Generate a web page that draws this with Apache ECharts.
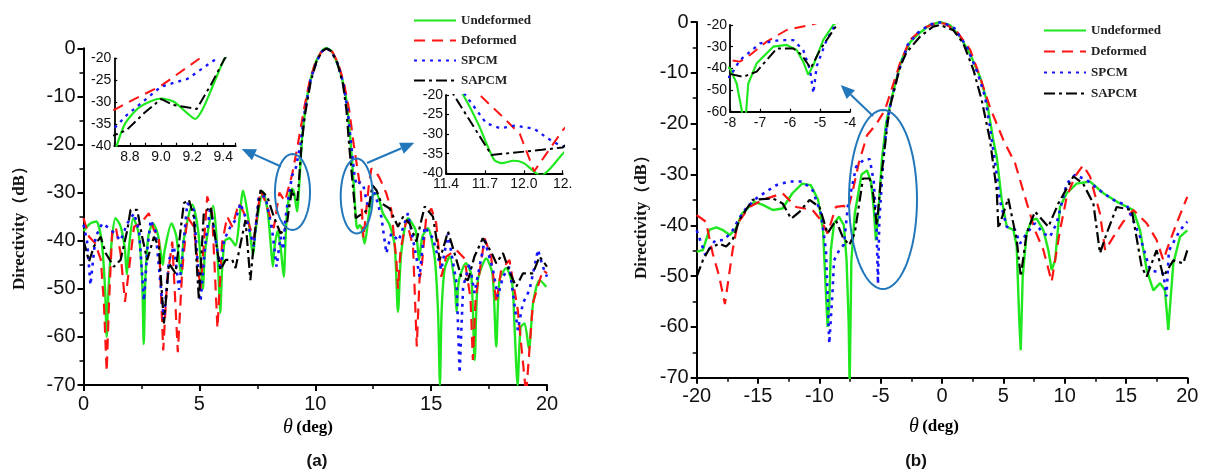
<!DOCTYPE html>
<html><head><meta charset="utf-8">
<script src="https://cdn.jsdelivr.net/npm/echarts@6/dist/echarts.min.js"></script>
<style>html,body{margin:0;padding:0;background:#fff}#c{width:1208px;height:476px}</style>
</head><body><div id="c"></div>
<script>
// ---------- DATA ----------
const seriesNames = ['Undeformed', 'Deformed', 'SPCM', 'SAPCM'];
const xTicksA = [0, 5, 10, 15, 20];
const xTicksB = [-20, -15, -10, -5, 0, 5, 10, 15, 20];
const yTicks = [0, -10, -20, -30, -40, -50, -60, -70];

// (a) theta (deg), directivity (dB)
const undeformedA = [[0,-38],[0.3,-36.4],[0.55,-36],[0.78,-40],[0.93,-50],[1.0,-60],[1.08,-50],[1.22,-40],[1.38,-35.3],[1.6,-37],[1.78,-41.5],[1.87,-47],[1.97,-41],[2.15,-35.3],[2.38,-38.5],[2.53,-48],[2.6,-61.5],[2.67,-48],[2.8,-39],[3.0,-36.4],[3.2,-38.5],[3.35,-43],[3.42,-45],[3.5,-42],[3.8,-36.4],[4.0,-39],[4.15,-45],[4.22,-47],[4.32,-40],[4.7,-32.5],[4.95,-38],[5.08,-46],[5.15,-50],[5.25,-42],[5.6,-32.8],[5.75,-40],[5.85,-50],[5.9,-55],[5.98,-46],[6.1,-40],[6.3,-39.5],[6.55,-41],[6.89,-29.6],[7.1,-35],[7.25,-41],[7.32,-43],[7.42,-38],[7.75,-29.8],[7.95,-34],[8.1,-42],[8.17,-45.4],[8.25,-41],[8.38,-38],[8.52,-42],[8.64,-47.5],[8.715,-40],[8.77,-34.9],[8.865,-31.1],[9.0,-29.2],[9.08,-29.9],[9.17,-32.6],[9.22,-33.9],[9.27,-31.5],[9.34,-25.7],[9.41,-20],[9.5,-15.5],[9.65,-10],[9.85,-5.5],[10.05,-2.6],[10.28,-0.6],[10.48,0],[10.7,-0.6],[10.92,-2.8],[11.12,-5.6],[11.32,-10],[11.44,-15],[11.54,-20.4],[11.65,-27.5],[11.77,-36.5],[11.83,-37.4],[11.92,-36.8],[12.0,-37.4],[12.13,-40.6],[12.31,-34.7],[12.45,-30.8],[12.64,-30.2],[12.92,-34.3],[13.21,-36.7],[13.43,-41.2],[13.57,-54.8],[13.71,-42.6],[14.0,-35.3],[14.33,-37.8],[14.48,-44],[14.62,-39.2],[14.86,-37.4],[15.15,-43.3],[15.3,-55],[15.38,-70],[15.45,-55],[15.58,-46],[15.8,-43.3],[16.02,-48.9],[16.1,-54.8],[16.2,-48.2],[16.5,-44.7],[16.73,-47],[16.88,-64.8],[17.02,-48.2],[17.38,-43.7],[17.65,-47],[17.81,-62],[17.95,-48.2],[18.24,-45.7],[18.5,-49],[18.6,-58],[18.73,-70],[18.86,-58],[19.03,-57.2],[19.22,-62.5],[19.4,-53],[19.68,-48.2],[19.97,-49.6]];
const deformedA = [[0,-35.3],[0.24,-39.2],[0.5,-40.5],[0.75,-44],[0.88,-53],[1.0,-67.2],[1.1,-53],[1.24,-37.8],[1.39,-37.1],[1.6,-42.6],[1.79,-52.7],[1.96,-46.1],[2.18,-37.1],[2.46,-36.4],[2.82,-34.3],[3.04,-37.8],[3.25,-39.2],[3.44,-62.8],[3.61,-48.2],[3.83,-40.2],[4.07,-63.2],[4.26,-46.1],[4.48,-35],[4.76,-37.1],[5.05,-50.2],[5.34,-30.8],[5.55,-34.3],[5.78,-58.2],[5.98,-40.5],[6.2,-35],[6.42,-37.1],[6.7,-32.2],[6.9,-34],[7.13,-36.4],[7.35,-39.9],[7.64,-29.5],[7.85,-31.9],[8.21,-37.4],[8.45,-30],[8.58,-31],[8.7,-31.8],[8.82,-29.5],[9.0,-26.3],[9.25,-20],[9.5,-13],[9.75,-7],[10.0,-3],[10.25,-0.8],[10.5,0],[10.75,-0.8],[11.0,-3.2],[11.25,-7.5],[11.47,-13],[11.66,-20],[11.85,-26],[11.97,-30],[12.08,-39.5],[12.3,-29],[12.42,-25],[12.6,-25.5],[12.78,-27],[13.07,-30.2],[13.28,-33.6],[13.5,-44],[13.57,-50],[13.68,-42],[13.93,-35.7],[14.22,-41.2],[14.38,-62],[14.5,-48],[14.58,-46.1],[14.79,-35],[15.01,-33.3],[15.22,-36.4],[15.44,-47.5],[15.65,-43.3],[16.08,-41.9],[16.44,-43.7],[16.7,-52],[16.8,-64.8],[16.92,-52],[17.31,-39.5],[17.59,-43.3],[17.81,-53],[18.02,-46.1],[18.38,-44],[18.74,-54.4],[19.1,-72],[19.39,-53],[19.82,-46.1],[20,-46.8]];
const spcmA = [[0,-36.7],[0.15,-40],[0.3,-49.2],[0.52,-39.2],[0.81,-36.4],[1.1,-37.4],[1.35,-38.5],[1.6,-40],[1.89,-36.4],[2.18,-34.3],[2.4,-38],[2.61,-52.5],[2.75,-42],[2.9,-35.7],[3.11,-38.1],[3.47,-56.5],[3.69,-44],[3.9,-41.2],[4.12,-50.2],[4.26,-43.3],[4.48,-32.2],[4.76,-33.6],[5.05,-52.7],[5.27,-39.9],[5.48,-32.9],[5.77,-41.9],[5.91,-46.1],[6.06,-39.9],[6.34,-37.1],[6.56,-35.7],[6.77,-32.2],[7.06,-36],[7.35,-41.2],[7.56,-30.8],[7.85,-30.8],[8.14,-37.8],[8.33,-45.4],[8.5,-39.2],[8.62,-41.9],[8.7,-36],[8.78,-33],[9.0,-26.5],[9.17,-24.7],[9.36,-20],[9.55,-13],[9.8,-6.5],[10.05,-2.8],[10.3,-0.6],[10.48,0],[10.7,-0.6],[10.95,-3],[11.2,-7],[11.4,-13],[11.55,-20],[11.71,-27.2],[11.82,-28.5],[11.93,-27.8],[12.08,-28.6],[12.19,-31.2],[12.3,-33.3],[12.45,-30],[12.58,-30.2],[12.85,-35],[13.07,-42.6],[13.28,-38.5],[13.6,-40],[14.0,-34.3],[14.36,-43.3],[14.5,-47.5],[14.72,-37.1],[15.08,-39.5],[15.44,-46.1],[15.73,-38.5],[16.1,-48.9],[16.23,-67.5],[16.38,-49.6],[16.66,-44.7],[16.87,-50.9],[17.31,-39.9],[17.67,-46.1],[17.88,-51.6],[18.1,-47.5],[18.38,-45.4],[18.74,-58.6],[18.96,-53],[19.25,-50.2],[19.61,-41.9],[19.82,-45.4],[20,-47.5]];
const sapcmA = [[0,-39.9],[0.24,-44.3],[0.45,-41.2],[0.74,-39.2],[0.96,-42.6],[1.31,-45.4],[1.6,-44],[1.89,-37.8],[2.03,-33.6],[2.32,-33.6],[2.53,-39.2],[2.75,-44],[3.04,-39.2],[3.25,-41.2],[3.47,-57.2],[3.69,-44.7],[3.97,-46.8],[4.19,-37.8],[4.33,-32.2],[4.55,-31.5],[4.76,-35],[4.98,-52.3],[5.19,-34.3],[5.48,-32.9],[5.7,-39.9],[5.91,-46.1],[6.13,-44],[6.42,-44],[6.56,-45.7],[6.99,-35.7],[7.2,-48.2],[7.4,-38],[7.64,-29.5],[7.93,-30.8],[8.21,-35],[8.5,-38.5],[8.7,-37.6],[8.78,-36.4],[8.89,-32.6],[9.0,-29.3],[9.08,-30.7],[9.23,-31.6],[9.32,-26.1],[9.41,-20],[9.55,-14],[9.8,-7],[10.05,-2.8],[10.3,-0.6],[10.48,0],[10.7,-0.6],[10.95,-3],[11.2,-7.5],[11.35,-13],[11.46,-20],[11.75,-35.3],[12.14,-34],[12.3,-33.4],[12.47,-28.5],[12.64,-29.5],[12.85,-32.2],[13.21,-33.3],[13.57,-37.1],[13.79,-35],[14.07,-36.4],[14.36,-40.2],[14.72,-32.9],[15.08,-35],[15.37,-44],[15.73,-38.1],[16.01,-42.6],[16.3,-47.5],[16.59,-48.2],[16.87,-43.3],[17.23,-39.5],[17.59,-42.3],[17.81,-44.7],[18.1,-42.6],[18.38,-46.4],[18.67,-49.6],[18.96,-46.8],[19.39,-46.8],[19.68,-43.3],[20,-45.4]];

// (b)
const undeformedB = [[-20,-45.2],[-19.5,-44.9],[-18.97,-40.9],[-18.4,-40.4],[-17.9,-40.9],[-17.3,-41.9],[-16.8,-40.6],[-16.3,-37.7],[-15.3,-35.4],[-14.6,-36],[-13.8,-37],[-13,-36.7],[-12.2,-33.7],[-11.4,-31.8],[-10.7,-32.1],[-10.1,-35],[-9.7,-40.9],[-9.46,-53.4],[-9.33,-60],[-9.19,-55.4],[-9.06,-44.9],[-8.8,-39.6],[-8.4,-38.3],[-8,-40],[-7.78,-46.9],[-7.61,-59.2],[-7.53,-72],[-7.39,-47],[-7.11,-37.7],[-6.56,-30],[-6.11,-29.2],[-5.78,-31.5],[-5.56,-36.9],[-5.39,-43],[-5.22,-38.5],[-4.89,-26.9],[-4.56,-20],[-4.2,-16],[-3.8,-12],[-3.3,-7.5],[-2.6,-4],[-2,-2.5],[-1,-0.6],[-0.15,0],[0.65,-0.6],[1.47,-2.9],[2.28,-6.2],[3.1,-10.8],[3.64,-15.4],[4.18,-23.2],[4.46,-26.5],[4.87,-35],[5.28,-40.3],[5.82,-40.9],[6.09,-44.2],[6.31,-59.3],[6.42,-64.6],[6.58,-50.1],[6.9,-41.6],[7.31,-39],[7.72,-38.7],[8.27,-41],[8.67,-44.9],[8.94,-48.8],[9.22,-46.9],[9.62,-36.4],[10.17,-33.7],[10.98,-31.8],[12.07,-31.4],[13.16,-33.7],[14.51,-35.7],[15.6,-37],[16.15,-41],[16.69,-48.8],[17.23,-52.8],[17.78,-51.4],[18.18,-52.8],[18.45,-60.6],[18.59,-56],[18.86,-47.5],[19.4,-42.3],[20,-41]];
const deformedB = [[-20,-38],[-19.25,-39.3],[-18.7,-45.5],[-18.16,-50.1],[-17.7,-55.5],[-17.07,-44.9],[-16.66,-39.6],[-15.7,-36.4],[-14.6,-35],[-13,-33.7],[-11.9,-36.4],[-10.55,-37],[-9.87,-39],[-9.33,-41.6],[-8.65,-36.4],[-8,-36.2],[-7.67,-36.9],[-7.33,-33.8],[-6.78,-27.7],[-6.11,-22.3],[-5.33,-20],[-4.65,-17.3],[-3.42,-8.1],[-2.6,-3.5],[-1.5,-1.2],[-0.5,-0.2],[0.2,-0.3],[1.2,-1.8],[2.3,-5.5],[3.1,-10.8],[3.91,-16.8],[5,-23.2],[5.96,-27.8],[6.9,-35.5],[7.58,-41],[8.27,-44.9],[8.94,-51.1],[9.62,-41],[10.17,-34.4],[10.84,-30.4],[11.5,-28.2],[12.07,-30.4],[12.88,-37.7],[13.3,-44.9],[13.97,-42.3],[14.78,-39.3],[15.6,-37],[16.69,-39.6],[17.5,-42.9],[18.05,-46.9],[18.32,-44.9],[19.13,-39.6],[20,-34.4]];
const spcmB = [[-20,-41],[-19.3,-45.8],[-18.5,-43],[-17.75,-42.9],[-17.07,-41],[-16.53,-38.6],[-15.98,-36.7],[-15.3,-35],[-14.35,-33.4],[-13.5,-32.1],[-12.45,-31.4],[-11.36,-31.4],[-10.55,-33.1],[-9.87,-37.7],[-9.46,-44.9],[-9.19,-63.3],[-8.92,-52.8],[-8.8,-46.9],[-8.38,-44.9],[-8,-43.8],[-7.67,-36.2],[-7,-28.5],[-6.33,-27],[-5.89,-27],[-5.56,-31.5],[-5.33,-40.8],[-5.22,-51.5],[-5.11,-39],[-4.78,-27],[-4.5,-20],[-4.1,-15],[-3.5,-9.5],[-2.8,-4.5],[-2,-2.2],[-1,-0.5],[0,0],[1,-1.2],[2,-4.8],[2.9,-10],[3.5,-14.6],[3.9,-20.5],[4.46,-30],[4.7,-35],[5.28,-40.3],[5.96,-40.9],[6.36,-43.6],[6.9,-41.6],[7.58,-39.6],[8.27,-41.6],[8.8,-42.3],[9.35,-39.6],[10.17,-31.8],[10.84,-30.1],[11.8,-31.1],[13.16,-33.7],[14.24,-35.4],[15.06,-36],[16.15,-42.3],[16.96,-48.8],[18.05,-49.5],[18.3,-54],[18.5,-45],[19.4,-41],[20,-39.3]];
const sapcmB = [[-20,-50.1],[-19.5,-46.9],[-18.97,-44.6],[-18.16,-43.6],[-17.6,-44.2],[-17.07,-42.9],[-16.53,-39],[-15.44,-35],[-13.8,-34.7],[-13,-35.7],[-12.3,-38.7],[-11.6,-37.3],[-10.8,-35],[-9.99,-36.4],[-9.33,-41.6],[-8.65,-39],[-8.1,-42.3],[-7.56,-43.9],[-7.11,-41.5],[-6.44,-30.8],[-5.89,-30.8],[-5.61,-33.8],[-5.31,-40],[-5,-31.5],[-4.44,-20],[-4.24,-16.7],[-3.42,-8.8],[-2.9,-6],[-1.8,-2.9],[-0.73,-0.9],[-0.16,-0.6],[0.92,-1.6],[1.74,-4.2],[2.56,-9.4],[3.24,-15.4],[3.91,-23.2],[4.46,-33.1],[4.6,-40.6],[5.4,-34.7],[6.09,-42.9],[6.42,-50.1],[6.9,-41.6],[7.58,-37.3],[8.67,-40.3],[9.49,-35.7],[10.71,-30.4],[11.5,-31.8],[12.34,-35.7],[12.88,-45.5],[13.43,-41.6],[14.24,-36.4],[15.47,-37],[16.28,-48.2],[16.69,-50.1],[17.5,-44.9],[18.05,-50.1],[18.86,-46.9],[19.67,-47.5],[20,-44.9]];

// ---------- STYLES ----------
const styles = {
  'Undeformed': {color:'#1fe81f', width:2.4, type:'solid'},
  'Deformed':   {color:'#ff1414', width:2.2, type:[11,7]},
  'SPCM':       {color:'#1414ff', width:2.6, type:[3,5]},
  'SAPCM':      {color:'#000000', width:2.2, type:[11,4,3,4]}
};
const dataA = [undeformedA, deformedA, spcmA, sapcmA];
const dataB = [undeformedB, deformedB, spcmB, sapcmB];

const chart = echarts.init(document.getElementById('c'), null, {renderer:'canvas'});

const FS = 'Liberation Sans, Arial, sans-serif';
const SERIF = 'Liberation Serif, Times New Roman, serif';

function mainX(gi, min, max) {
  return {gridIndex: gi, type:'value', min, max, interval:5,
    axisLine:{show:true, onZero:false, lineStyle:{color:'#000', width:2}},
    axisTick:{show:true, length:6, lineStyle:{color:'#000', width:2}},
    minorTick:{show:true, splitNumber:2, length:4, lineStyle:{color:'#000', width:1.5}},
    axisLabel:{fontSize:20, color:'#111', fontFamily:FS, margin:9},
    splitLine:{show:false}};
}
function mainY(gi) {
  return {gridIndex: gi, type:'value', min:-70, max:0, interval:10,
    axisLine:{show:true, onZero:false, lineStyle:{color:'#000', width:2}},
    axisTick:{show:true, length:6, lineStyle:{color:'#000', width:2}},
    minorTick:{show:true, splitNumber:2, length:4, lineStyle:{color:'#000', width:1.5}},
    axisLabel:{fontSize:20, color:'#111', fontFamily:FS, margin:8},
    splitLine:{show:false}};
}
function insetX(gi, min, max, interval, fmt) {
  return {gridIndex: gi, type:'value', min, max, interval,
    axisLine:{show:true, onZero:false, lineStyle:{color:'#000', width:1.8}},
    axisTick:{show:true, inside:true, length:3, lineStyle:{color:'#000', width:1.2}},
    axisLabel:{fontSize:14, color:'#111', fontFamily:FS, margin:4, formatter:fmt, showMaxLabel:true},
    splitLine:{show:false}};
}
function insetY(gi, min, max, interval) {
  return {gridIndex: gi, type:'value', min, max, interval,
    axisLine:{show:true, onZero:false, lineStyle:{color:'#000', width:1.8}},
    axisTick:{show:true, inside:true, length:3, lineStyle:{color:'#000', width:1.2}},
    axisLabel:{fontSize:14, color:'#111', fontFamily:FS, margin:3},
    splitLine:{show:false}};
}

const grids = [
  {left:83.5, top:48.3, width:463.5, height:336.7},
  {left:114.3, top:58.3, width:121.4, height:87.4},
  {left:446, top:95, width:116.7, height:78.3},
  {left:696.7, top:22, width:490.6, height:355.7},
  {left:730, top:25, width:120, height:86.7}
];
const xAxes = [
  mainX(0, 0, 20),
  insetX(1, 8.7, 9.48, 0.1, v => { const r = Math.round(v*10); return (r % 2 === 0) ? (r/10).toFixed(1) : ''; }),
  insetX(2, 11.4, 12.3, 0.3, v => { const r = Math.round(v*10); return r === 123 ? '12.' : (r/10).toFixed(1); }),
  mainX(3, -20, 20),
  insetX(4, -8, -4, 1, v => String(Math.round(v)))
];
const yAxes = [mainY(0), insetY(1, -40, -20, 5), insetY(2, -40, -20, 5), mainY(3), insetY(4, -60, -20, 10)];

const series = [];
function addSeries(name, data, axisIdx, inset) {
  const s = styles[name];
  series.push({name, type:'line', data, xAxisIndex:axisIdx, yAxisIndex:axisIdx,
    showSymbol:false, symbol:'none', clip:true, animation:false,
    smooth: (name==='Undeformed' && axisIdx<=2) ? 0.25 : false,
    lineStyle:{color:s.color, width: inset ? s.width*0.9 : s.width, type:s.type},
    itemStyle:{color:s.color}, z: name==='Undeformed' ? 2 : 3});
}
seriesNames.forEach((n,i) => { addSeries(n, dataA[i], 0, false); addSeries(n, dataA[i], 1, true); addSeries(n, dataA[i], 2, true); });
seriesNames.forEach((n,i) => { addSeries(n, dataB[i], 3, false); addSeries(n, dataB[i], 4, true); });

function legendAt(left, top, gap) {
  return {orient:'vertical', left, top, itemWidth:42, itemHeight:14, itemGap:gap, selectedMode:false,
    data: seriesNames,
    itemStyle:{opacity:0, color:'rgba(0,0,0,0)', borderWidth:0},
    textStyle:{fontFamily:SERIF, fontWeight:'bold', fontSize:13, color:'#222'}};
}

function ellipse(cx, cy, rx, ry) {
  const pts = [];
  for (let i = 0; i <= 72; i++) { const t = i/72*2*Math.PI; pts.push([cx + rx*Math.cos(t), cy + ry*Math.sin(t)]); }
  return {type:'polyline', shape:{points:pts}, style:{stroke:'#2277bb', lineWidth:2, fill:null}, z:10};
}
function arrow(x1, y1, x2, y2) {
  const ang = Math.atan2(y2-y1, x2-x1), L = 14, W = 6;
  const bx = x2 - L*Math.cos(ang), by = y2 - L*Math.sin(ang);
  const px = -Math.sin(ang)*W, py = Math.cos(ang)*W;
  return [
    {type:'line', shape:{x1, y1, x2:bx, y2:by}, style:{stroke:'#2277bb', lineWidth:2}, z:10},
    {type:'polygon', shape:{points:[[x2,y2],[bx+px,by+py],[bx-px,by-py]]}, style:{fill:'#2277bb'}, z:10}
  ];
}
const xTitleRich = {a:{fontFamily:SERIF, fontStyle:'italic', fontSize:20, color:'#111'}, b:{fontFamily:SERIF, fontWeight:'bold', fontSize:17, color:'#111'}};
const graphics = [
  ellipse(292.5, 192, 17.5, 38), ellipse(356.7, 196, 16, 37.5), ellipse(883, 199.5, 34, 89.5),
  ...arrow(281, 166.5, 241.7, 149), ...arrow(367, 163, 414.3, 142.7), ...arrow(873, 116, 840.7, 85),
  {type:'text', left:283, top:418, style:{text:'{a|θ} {b|(deg)}', rich:xTitleRich}},
  {type:'text', left:909, top:417, style:{text:'{a|θ} {b|(deg)}', rich:xTitleRich}},
  {type:'text', x:20, y:224, rotation:Math.PI/2, style:{text:'Directivity（dB）', fontFamily:SERIF, fontWeight:'bold', fontSize:17, fill:'#111', align:'center', verticalAlign:'middle'}},
  {type:'text', x:642, y:213, rotation:Math.PI/2, style:{text:'Directivity（dB）', fontFamily:SERIF, fontWeight:'bold', fontSize:17, fill:'#111', align:'center', verticalAlign:'middle'}},
  {type:'text', x:317, y:461, style:{text:'(a)', fontFamily:FS, fontWeight:'bold', fontSize:17, fill:'#111', align:'center', verticalAlign:'middle'}},
  {type:'text', x:916, y:461, style:{text:'(b)', fontFamily:FS, fontWeight:'bold', fontSize:17, fill:'#111', align:'center', verticalAlign:'middle'}}
];

chart.setOption({
  animation:false,
  backgroundColor:'#fff',
  grid: grids,
  xAxis: xAxes,
  yAxis: yAxes,
  legend: [legendAt(408, 9, 7), legendAt(1038, 19, 8)],
  series,
  graphic: graphics
});
</script></body></html>
